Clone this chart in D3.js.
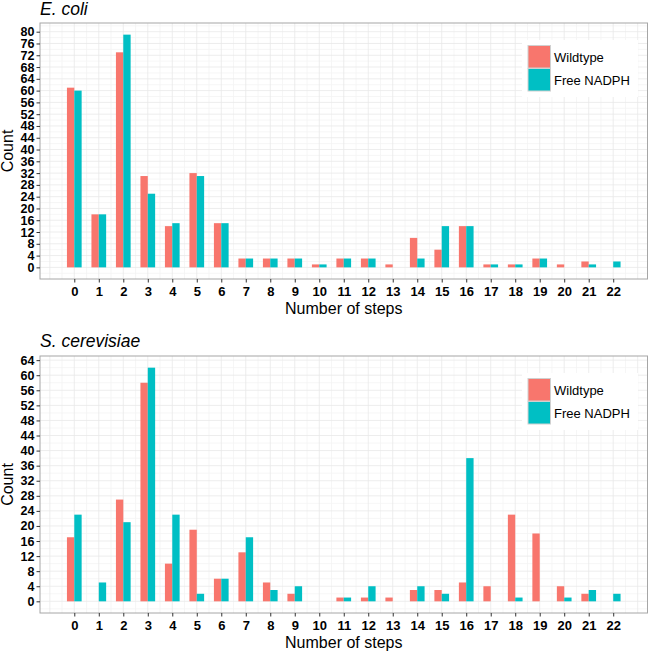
<!DOCTYPE html>
<html>
<head>
<meta charset="utf-8">
<title>Number of steps</title>
<script src="https://d3js.org/d3.v7.min.js"></script>
<style>
  body { margin: 0; background: #fff; }
  svg text { font-family: "Liberation Sans", Arial, Helvetica, sans-serif; }
</style>
</head>
<body>
<div id="chart"></div>
<script>

// categories (number of steps)
var steps = ["0","1","2","3","4","5","6","7","8","9","10","11","12","13","14","15","16","17","18","19","20","21","22"];
var seriesNames = ["Wildtype", "Free NADPH"];
var colors = ["#F8766D", "#00BFC4"];

// E. coli counts
var ecoliWildtype = [61, 18, 73, 31, 14, 32, 15, 3, 3, 3, 1, 3, 3, 1, 10, 6, 14, 1, 1, 3, 1, 2, 0];
var ecoliFree     = [60, 18, 79, 25, 15, 31, 15, 3, 3, 3, 1, 3, 3, 0, 3, 14, 14, 1, 1, 3, 0, 1, 2];

// S. cerevisiae counts
var yeastWildtype = [17, 0, 27, 58, 10, 19, 6, 13, 5, 2, 0, 1, 1, 1, 3, 3, 5, 4, 23, 18, 4, 2, 0];
var yeastFree     = [23, 5, 21, 62, 23, 2, 6, 17, 3, 4, 0, 1, 4, 0, 4, 2, 38, 0, 1, 0, 1, 3, 2];

// y tick labels
var ecoliTicks = [0, 4, 8, 12, 16, 20, 24, 28, 32, 36, 40, 44, 48, 52, 56, 60, 64, 68, 72, 76, 80];
var yeastTicks = [0, 4, 8, 12, 16, 20, 24, 28, 32, 36, 40, 44, 48, 52, 56, 60, 64];

var W = 648, H = 651;
var svg = d3.select("#chart").append("svg")
  .attr("width", W).attr("height", H);

function panel(opts) {
  var left = 40, right = 647.5, top = opts.top, bottom = opts.bottom;
  var g = svg.append("g");

  var maxV = d3.max(opts.a.concat(opts.b));
  var y = d3.scaleLinear()
    .domain([-0.05 * maxV, maxV * 1.05])
    .range([bottom, top]);
  var x = d3.scaleLinear()
    .domain([-1.4, 23.4])
    .range([left, right]);

  // title
  g.append("text")
    .attr("x", left).attr("y", opts.titleY)
    .style("font-size", "17.5px").style("font-style", "italic")
    .text(opts.title);

  // panel background
  g.append("rect")
    .attr("x", left).attr("y", top)
    .attr("width", right - left).attr("height", bottom - top)
    .attr("fill", "#fff");

  // minor grid
  var xMinor = d3.range(-1.5, 23.5, 1).filter(function (v) { return v > -1.4 && v < 23.4; });
  var yMinor = opts.ticks.map(function (t) { return t - 2; }).concat([opts.ticks[opts.ticks.length - 1] + 2])
    .filter(function (v) { return y(v) >= top && y(v) <= bottom; });
  g.selectAll(".xminor").data(xMinor).enter().append("line")
    .attr("x1", function (d) { return x(d); }).attr("x2", function (d) { return x(d); })
    .attr("y1", top).attr("y2", bottom)
    .attr("stroke", "#f4f4f4").attr("stroke-width", 0.8);
  g.selectAll(".yminor").data(yMinor).enter().append("line")
    .attr("x1", left).attr("x2", right)
    .attr("y1", function (d) { return y(d); }).attr("y2", function (d) { return y(d); })
    .attr("stroke", "#f4f4f4").attr("stroke-width", 0.8);

  // major grid
  var xMajor = d3.range(-1, 24, 1);
  g.selectAll(".xmajor").data(xMajor).enter().append("line")
    .attr("x1", function (d) { return x(d); }).attr("x2", function (d) { return x(d); })
    .attr("y1", top).attr("y2", bottom)
    .attr("stroke", "#e8e8e8").attr("stroke-width", 0.8);
  g.selectAll(".ymajor").data(opts.ticks).enter().append("line")
    .attr("x1", left).attr("x2", right)
    .attr("y1", function (d) { return y(d); }).attr("y2", function (d) { return y(d); })
    .attr("stroke", "#e8e8e8").attr("stroke-width", 0.8);

  // bars (dodged, total width 0.6)
  var bw = 0.3;
  [opts.a, opts.b].forEach(function (vals, si) {
    g.selectAll(".bar" + si).data(vals).enter().append("rect")
      .attr("x", function (d, i) { return x(+steps[i] - bw + si * bw); })
      .attr("width", x(bw) - x(0))
      .attr("y", function (d) { return y(d); })
      .attr("height", function (d) { return y(0) - y(d); })
      .attr("fill", colors[si]);
  });

  // legend
  var lg = g.append("g");
  lg.append("rect")
    .attr("x", 522).attr("y", top + 17)
    .attr("width", 116).attr("height", 57)
    .attr("fill", "#fff");
  seriesNames.forEach(function (name, i) {
    lg.append("rect")
      .attr("x", 528).attr("y", top + 22.5 + i * 23)
      .attr("width", 22.5).attr("height", 22.5)
      .attr("fill", colors[i])
      .attr("stroke", "#d0d0d0").attr("stroke-width", 1);
    lg.append("text")
      .attr("x", 554).attr("y", top + 38.5 + i * 23)
      .style("font-size", "13px")
      .text(name);
  });

  // panel border
  g.append("rect")
    .attr("x", left).attr("y", top)
    .attr("width", right - left).attr("height", bottom - top)
    .attr("fill", "none").attr("stroke", "#a6a6a6").attr("stroke-width", 1);

  // y axis
  var yAxis = g.append("g")
    .attr("transform", "translate(" + left + ",0)")
    .call(d3.axisLeft(y).tickValues(opts.ticks).tickSize(3.5).tickPadding(2));
  yAxis.select(".domain").remove();
  yAxis.selectAll(".tick line").attr("stroke", "#333");
  yAxis.selectAll(".tick text")
    .style("font-size", "12.5px").style("font-weight", "bold")
    .attr("fill", "#000");

  // x axis
  var xAxis = g.append("g")
    .attr("transform", "translate(0," + bottom + ")")
    .call(d3.axisBottom(x).tickValues(steps.map(Number)).tickSize(3.5).tickPadding(4)
      .tickFormat(function (d, i) { return steps[i]; }));
  xAxis.select(".domain").remove();
  xAxis.selectAll(".tick line").attr("stroke", "#333");
  xAxis.selectAll(".tick text")
    .style("font-size", "13px").style("font-weight", "bold")
    .attr("fill", "#000");

  // axis titles
  g.append("text")
    .attr("x", (left + right) / 2).attr("y", bottom + 35)
    .attr("text-anchor", "middle")
    .style("font-size", "16px")
    .text("Number of steps");
  g.append("text")
    .attr("transform", "translate(13," + ((top + bottom) / 2) + ") rotate(-90)")
    .attr("text-anchor", "middle")
    .style("font-size", "16px")
    .text("Count");
}

panel({ title: "E. coli", titleY: 14.5, top: 23, bottom: 279, a: ecoliWildtype, b: ecoliFree, ticks: ecoliTicks });
panel({ title: "S. cerevisiae", titleY: 347, top: 356, bottom: 613, a: yeastWildtype, b: yeastFree, ticks: yeastTicks });

</script>
</body>
</html>
